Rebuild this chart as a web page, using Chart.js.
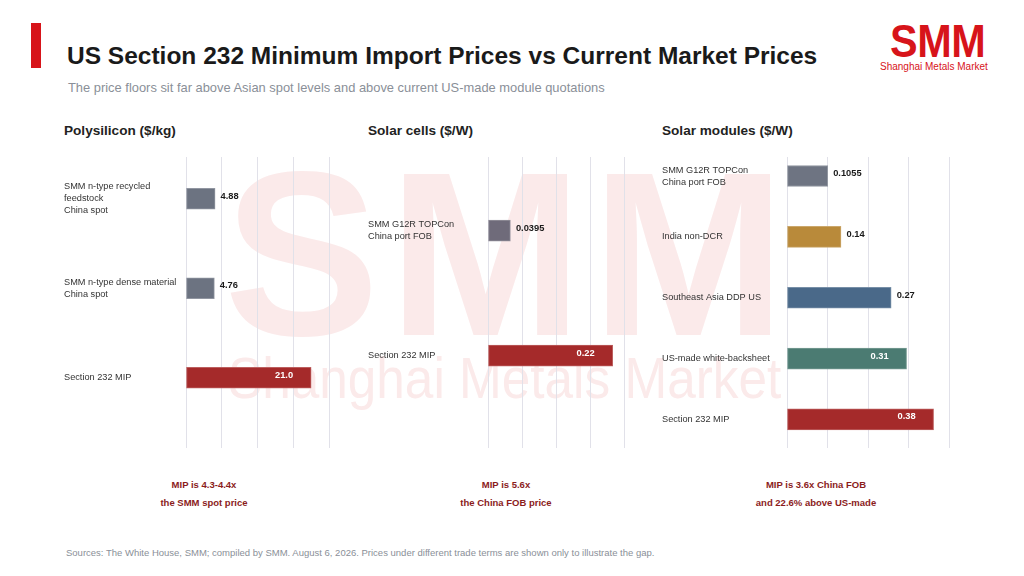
<!DOCTYPE html>
<html><head><meta charset="utf-8">
<script src="https://cdn.jsdelivr.net/npm/chart.js@4.4.1/dist/chart.umd.min.js"></script>
<style>
body{margin:0;width:1024px;height:576px;background:#fff;position:relative;overflow:hidden;font-family:"Liberation Sans",Arial,sans-serif;}
.abs{position:absolute;white-space:nowrap;line-height:1;}
canvas{position:absolute;}
.note{position:absolute;width:300px;text-align:center;font-size:9.5px;font-weight:bold;color:#8b1c1c;line-height:1;}
</style></head>
<body>
<div class="abs" style="left:224px;top:138px;font-size:233px;font-weight:bold;color:#fbeaea;letter-spacing:9px">SMM</div>
<div class="abs" style="left:228px;top:350px;font-size:57px;color:#fbeaea;transform:scaleX(0.9);transform-origin:left top">Shanghai Metals Market</div>

<div class="abs" style="left:31px;top:23px;width:10px;height:45px;background:#d7141a"></div>
<div class="abs" style="left:67px;top:43.5px;font-size:24.5px;font-weight:bold;color:#1a1a1a">US Section 232 Minimum Import Prices vs Current Market Prices</div>
<div class="abs" style="left:68px;top:81.5px;font-size:12.9px;color:#8a8f98">The price floors sit far above Asian spot levels and above current US-made module quotations</div>
<div class="abs" style="left:890px;top:18px;font-size:46px;font-weight:bold;color:#d7141a;transform:scaleX(0.9);transform-origin:left top;letter-spacing:-0.5px">SMM</div>
<div class="abs" style="left:880px;top:62px;font-size:10px;color:#d7141a">Shanghai Metals Market</div>

<div class="abs" style="left:64px;top:123.5px;font-size:13.6px;font-weight:bold;color:#222">Polysilicon ($/kg)</div>
<div class="abs" style="left:368px;top:123.5px;font-size:13.6px;font-weight:bold;color:#222">Solar cells ($/W)</div>
<div class="abs" style="left:662px;top:123.5px;font-size:13.6px;font-weight:bold;color:#222">Solar modules ($/W)</div>

<canvas id="poly" width="290" height="305" style="left:60px;top:150px"></canvas>
<canvas id="cells" width="280" height="305" style="left:364px;top:150px"></canvas>
<canvas id="modules" width="310" height="305" style="left:658px;top:150px"></canvas>

<div class="note" style="left:54px;top:479.5px">MIP is 4.3-4.4x</div>
<div class="note" style="left:54px;top:497.8px">the SMM spot price</div>
<div class="note" style="left:356px;top:479.5px">MIP is 5.6x</div>
<div class="note" style="left:356px;top:497.8px">the China FOB price</div>
<div class="note" style="left:666px;top:479.5px">MIP is 3.6x China FOB</div>
<div class="note" style="left:666px;top:497.8px">and 22.6% above US-made</div>

<div class="abs" style="left:66px;top:547.5px;font-size:9.5px;color:#8a8f98">Sources: The White House, SMM; compiled by SMM. August 6, 2026. Prices under different trade terms are shown only to illustrate the gap.</div>

<script>
const FONT = '"Liberation Sans", Arial, sans-serif';

const polyCategories = [["SMM n-type recycled","feedstock","China spot"],["SMM n-type dense material","China spot"],"Section 232 MIP"];
const polyValues = [4.88, 4.76, 21.0];
const polyColors = ["#6c7381","#6c7381","#a52a2a"];

const cellCategories = [["SMM G12R TOPCon","China port FOB"],"Section 232 MIP"];
const cellValues = [0.0395, 0.22];
const cellColors = ["#6f6b7a","#a52a2a"];

const moduleCategories = [["SMM G12R TOPCon","China port FOB"],"India non-DCR","Southeast Asia DDP US","US-made white-backsheet","Section 232 MIP"];
const moduleValues = [0.1055, 0.14, 0.27, 0.31, 0.38];
const moduleColors = ["#6e7482","#b98a3a","#4a6989","#4b7b72","#a52a2a"];

const axisMax = {poly:24, cells:0.24, modules:0.42};

function lighten(hex, f){
  const n = parseInt(hex.slice(1),16);
  const r = n>>16, g = (n>>8)&255, b = n&255;
  const m = c => Math.round(c + (255-c)*f);
  return 'rgb(' + m(r) + ',' + m(g) + ',' + m(b) + ')';
}

function makeChart(id, cats, vals, colors, max, yMin, yMax, yWidth, padRight, fmt){
  const labelPlugin = {
    id:'valueLabels_'+id,
    afterDatasetsDraw(chart){
      const ctx = chart.ctx;
      const meta = chart.getDatasetMeta(0);
      ctx.save();
      ctx.font = 'bold 9.3px ' + FONT;
      ctx.textBaseline = 'middle';
      meta.data.forEach((bar,i)=>{
        const v = vals[i];
        const txt = fmt(v);
        if (v / max > 0.7){
          ctx.fillStyle = '#ffffff'; ctx.textAlign = 'right';
          ctx.fillText(txt, bar.x - 18, bar.y - 2.5);
        } else {
          ctx.fillStyle = '#1a1a1a'; ctx.textAlign = 'left';
          ctx.fillText(txt, bar.x + 5.5, bar.y - 2.5);
        }
      });
      ctx.restore();
    }
  };
  return new Chart(document.getElementById(id), {
    type:'bar',
    data:{ datasets:[{ data: vals.map((v,i)=>({x:v, y:i})), backgroundColor: colors,
                       borderColor: colors.map(c=>lighten(c,0.25)), borderWidth:1, borderSkipped:false,
                       barThickness:21 }] },
    options:{
      indexAxis:'y', responsive:false, animation:false, events:[],
      layout:{ padding:{left:4, right:padRight, top:7, bottom:7} },
      plugins:{ legend:{display:false}, tooltip:{enabled:false} },
      scales:{
        x:{ type:'linear', min:0, max:max,
            grid:{ color:'#e1e1e9', lineWidth:1, drawTicks:false },
            border:{ display:false },
            ticks:{ display:false, count:5 },
            afterFit(s){ s.height = 0; s.paddingLeft = 0; s.paddingRight = 0; } },
        y:{ type:'linear', reverse:true, min:yMin, max:yMax, offset:false,
            grid:{ display:false, offset:false }, border:{ display:false },
            afterBuildTicks(s){ s.ticks = cats.map((_,i)=>({value:i})); },
            afterFit(s){ s.width = yWidth; s.paddingTop = 0; s.paddingBottom = 0; },
            ticks:{ autoSkip:false, crossAlign:'far', color:'#333333',
                    font:{ size:9.2, family:FONT, lineHeight:1.3 },
                    callback:(v)=>cats[v] } }
      }
    },
    plugins:[labelPlugin]
  });
}

makeChart('poly', polyCategories, polyValues, polyColors, axisMax.poly, -0.466, 2.785, 122, 21,
  v => v >= 10 ? v.toFixed(1) : v.toFixed(2));
makeChart('cells', cellCategories, cellValues, cellColors, axisMax.cells, -0.59, 1.74, 120, 20,
  v => String(v));
makeChart('modules', moduleCategories, moduleValues, moduleColors, axisMax.modules, -0.3125, 4.47, 125, 19,
  v => String(v));
</script>
</body></html>
